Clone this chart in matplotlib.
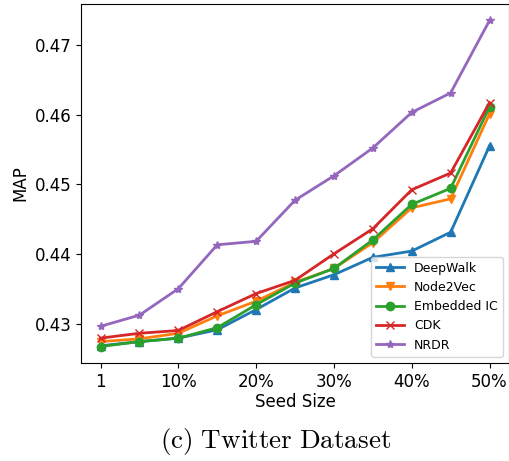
import matplotlib
matplotlib.use("Agg")
import matplotlib.pyplot as plt

# seed sizes: 1 node, then 5% .. 50%
seed_labels = ["1", "5%", "10%", "15%", "20%", "25%", "30%", "35%", "40%", "45%", "50%"]

deepwalk  = [0.4268, 0.4274, 0.4279, 0.4291, 0.4320, 0.4351, 0.4370, 0.4395, 0.4404, 0.4431, 0.4555]
node2vec  = [0.4274, 0.4278, 0.4286, 0.4311, 0.4332, 0.4359, 0.4379, 0.4416, 0.4466, 0.4479, 0.4601]
embed_ic  = [0.4267, 0.4274, 0.4279, 0.4294, 0.4327, 0.4358, 0.4379, 0.4420, 0.4471, 0.4494, 0.4611]
cdk       = [0.4279, 0.4286, 0.4290, 0.4317, 0.4343, 0.4362, 0.4400, 0.4436, 0.4492, 0.4516, 0.4617]
nrdr      = [0.4296, 0.4312, 0.4350, 0.4413, 0.4418, 0.4477, 0.4512, 0.4552, 0.4603, 0.4631, 0.4735]

series = [
   ("DeepWalk", deepwalk, "^"),
   ("Node2Vec", node2vec, "v"),
   ("Embedded IC", embed_ic, "o"),
   ("CDK", cdk, "x"),
   ("NRDR", nrdr, "*"),
]

fig = plt.figure(figsize=(5.1, 4.61), dpi=100)
ax = fig.add_axes([0.159, 0.213, 0.839, 0.778])

x = list(range(len(seed_labels)))
for name, vals, mk in series:
   ax.plot(x, vals, marker=mk, linewidth=2, markersize=6, label=name)

ax.set_xticks(x[::2])
ax.set_xticklabels(seed_labels[::2])
ax.tick_params(labelsize=12)
ax.set_xlabel("Seed Size", fontsize=12, labelpad=2)
ax.set_ylabel("MAP", fontsize=12)
ax.legend(loc="lower right", fontsize=9, handlelength=2.2)

plt.rcParams["mathtext.fontset"] = "cm"
fig.text(0.54, 0.042, r"$\mathrm{(c)\ Twitter\ Dataset}$", ha="center", va="center", fontsize=19.5)

fig.savefig("out.png", dpi=100)
